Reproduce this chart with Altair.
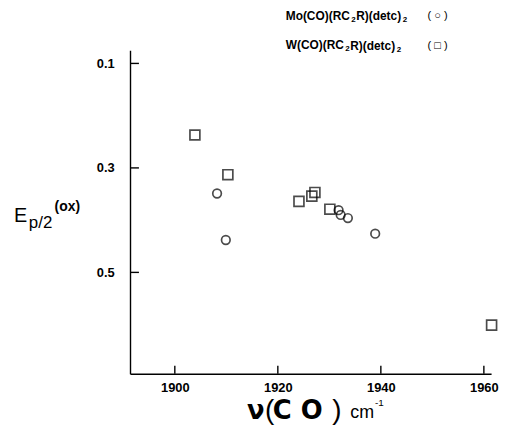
import altair as alt
import pandas as pd

# Data
mo_nu = [1908.2, 1909.9, 1931.8, 1932.2, 1933.6, 1938.9]
mo_e = [0.349, 0.438, 0.381, 0.390, 0.396, 0.426]
w_nu = [1903.9, 1910.3, 1924.1, 1926.6, 1927.2, 1930.1, 1961.5]
w_e = [0.237, 0.313, 0.364, 0.354, 0.347, 0.379, 0.601]

x_ticks = [1900, 1920, 1940, 1960]
y_ticks = [0.1, 0.3, 0.5]

df = pd.DataFrame({
    "nu": mo_nu + w_nu,
    "e": mo_e + w_e,
    "s": ["Mo"] * len(mo_nu) + ["W"] * len(w_nu),
})

FONT = "Liberation Sans"
W, H = 364, 326

xs = alt.Scale(domain=[1891.3, 1961.4], nice=False, zero=False)
ys = alt.Scale(domain=[0.075, 0.694], reverse=True, nice=False, zero=False)

xax = alt.Axis(values=x_ticks, format="d", tickSize=0, labelFont=FONT, labelFontWeight="bold",
               labelFontSize=13, labelColor="black", labelPadding=8, domainColor="black",
               domainWidth=1.4, grid=False, title=None)
yax = alt.Axis(values=y_ticks, format=".1f", tickSize=0, labelFont=FONT, labelFontWeight="bold",
               labelFontSize=13, labelColor="black", labelPadding=16, domainColor="black",
               domainWidth=1.4, grid=False, title=None)

base = alt.Chart(df)
pts = base.mark_point(filled=False, color="black", strokeWidth=1.7).encode(
    x=alt.X("nu:Q", scale=xs, axis=xax),
    y=alt.Y("e:Q", scale=ys, axis=yax),
    shape=alt.Shape("s:N", scale=alt.Scale(domain=["Mo", "W"], range=["circle", "square"]), legend=None),
    size=alt.Size("s:N", scale=alt.Scale(domain=["Mo", "W"], range=[75, 100]), legend=None),
)

xt = alt.Chart(pd.DataFrame({"v": x_ticks})).mark_rule(color="black", strokeWidth=1.4).encode(
    x=alt.X("v:Q", scale=xs), y=alt.value(H), y2=alt.value(H - 8))
yt = alt.Chart(pd.DataFrame({"v": y_ticks})).mark_rule(color="black", strokeWidth=1.4).encode(
    y=alt.Y("v:Q", scale=ys), x=alt.value(0), x2=alt.value(9))

def txt(s, x, y, size, weight="normal", font=FONT):
    return alt.Chart(pd.DataFrame({"t": [s]})).mark_text(
        align="left", baseline="middle", fontSize=size, fontWeight=weight, font=font, color="black"
    ).encode(text="t:N", x=alt.value(x), y=alt.value(y))

annos = [
    txt("Mo(CO)(RC", 157, -35, 12, "bold"),
    txt("2", 223, -31, 8, "bold"),
    txt("R)(detc)", 228, -35, 12, "bold"),
    txt("2", 275, -31, 8, "bold"),
    txt("( ○ )", 300, -35, 11),
    txt("W(CO)(RC", 157, -5, 12, "bold"),
    txt("2", 217, -1, 8, "bold"),
    txt("R)(detc)", 222, -4, 12, "bold"),
    txt("2", 269, 0, 8, "bold"),
    txt("( □ )", 300, -4, 11),
    txt("E", -117, 167, 20),
    txt("p/2", -102, 174, 17),
    txt("(ox)", -76, 158, 14, "bold"),
    txt("ν", 118, 364, 26, "bold", "DejaVu Sans"),
    txt("(", 136, 364, 28),
    txt("C", 144, 364, 26, "bold", "DejaVu Sans"),
    txt("O", 172, 364, 26, "bold", "DejaVu Sans"),
    txt(")", 204, 364, 28),
    txt("cm", 222, 366, 18),
    txt("-1", 247, 356, 10),
]

chart = alt.layer(pts, xt, yt, *annos).properties(
    width=W, height=H,
    autosize=alt.AutoSizeParams(type="none"),
    padding={"left": 123, "top": 41, "right": 10, "bottom": 54},
).configure_view(stroke=None)

chart.save("out.html", embed_options={"renderer": "svg", "actions": False})
